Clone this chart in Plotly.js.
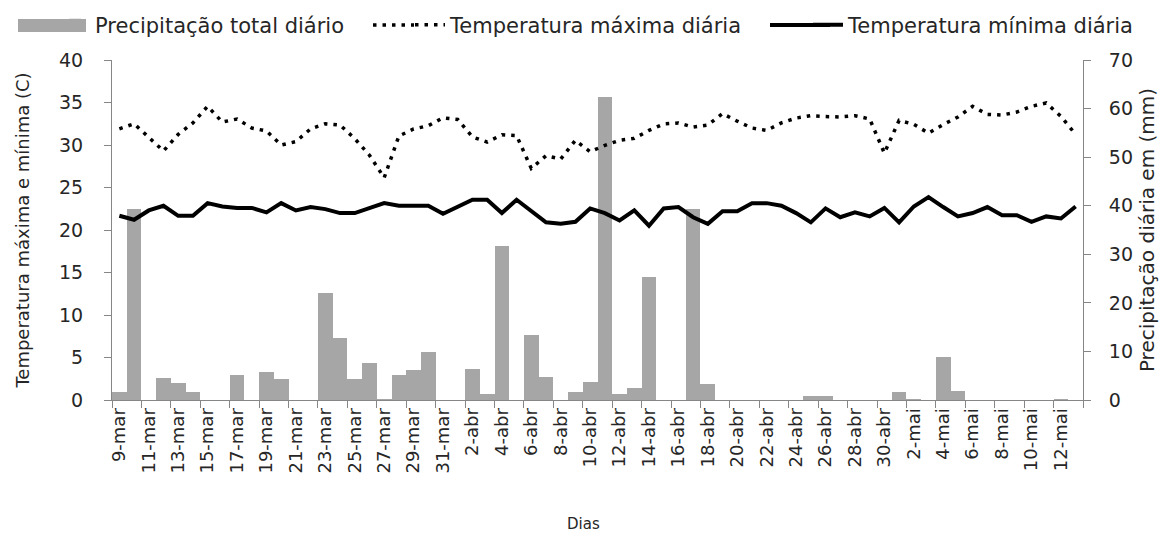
<!DOCTYPE html>
<html>
<head>
<meta charset="utf-8">
<script src="https://cdn.plot.ly/plotly-3.0.1.min.js"></script>
<style>
html,body{margin:0;padding:0;background:#fff;}
#chart{width:1161px;height:543px;}
</style>
</head>
<body>
<div id="chart"></div>
<script>
const days = [
 "9-mar","10-mar","11-mar","12-mar","13-mar","14-mar","15-mar","16-mar","17-mar","18-mar",
 "19-mar","20-mar","21-mar","22-mar","23-mar","24-mar","25-mar","26-mar","27-mar","28-mar",
 "29-mar","30-mar","31-mar","1-abr","2-abr","3-abr","4-abr","5-abr","6-abr","7-abr",
 "8-abr","9-abr","10-abr","11-abr","12-abr","13-abr","14-abr","15-abr","16-abr","17-abr",
 "18-abr","19-abr","20-abr","21-abr","22-abr","23-abr","24-abr","25-abr","26-abr","27-abr",
 "28-abr","29-abr","30-abr","1-mai","2-mai","3-mai","4-mai","5-mai","6-mai","7-mai",
 "8-mai","9-mai","10-mai","11-mai","12-mai","13-mai"
];

const precipitacao = [
 1.6, 39.4, 0, 4.5, 3.4, 1.6, 0, 0, 5.1, 0,
 5.8, 4.3, 0, 0, 22.0, 12.7, 4.3, 7.7, 0.3, 5.1,
 6.1, 9.8, 0, 0, 6.4, 1.2, 31.7, 0, 13.3, 4.8,
 0, 1.6, 3.7, 62.4, 1.2, 2.4, 25.4, 0, 0, 39.4,
 3.2, 0, 0, 0, 0, 0, 0, 0.8, 0.8, 0,
 0, 0, 0, 1.7, 0.3, 0, 8.9, 1.9, 0, 0,
 0, 0, 0, 0, 0.3, 0
];

const tempMax = [
 31.9, 32.5, 30.9, 29.3, 31.25, 32.6, 34.55, 32.7, 33.06, 32.0,
 31.65, 30.0, 30.4, 31.9, 32.5, 32.35, 30.75, 28.8, 26.15, 31.05,
 31.88, 32.27, 33.2, 33.0, 30.94, 30.35, 31.2, 31.1, 27.25, 28.74,
 28.35, 30.55, 29.2, 29.96, 30.55, 30.78, 31.72, 32.47, 32.6, 32.1,
 32.35, 33.7, 32.8, 32.0, 31.72, 32.6, 33.17, 33.45, 33.35, 33.3,
 33.45, 33.06, 29.05, 32.9, 32.43, 31.4, 32.4, 33.3, 34.55, 33.6,
 33.53, 33.88, 34.55, 34.94, 33.37, 31.25
];

const tempMin = [
 21.67, 21.2, 22.3, 22.85, 21.67, 21.67, 23.16, 22.77, 22.6, 22.6,
 22.07, 23.16, 22.3, 22.7, 22.46, 21.99, 21.99, 22.55, 23.16, 22.85,
 22.85, 22.85, 21.9, 22.77, 23.56, 23.56, 21.99, 23.56, 22.3, 20.9,
 20.73, 20.97, 22.54, 21.99, 21.12, 22.3, 20.5, 22.54, 22.7, 21.5,
 20.73, 22.2, 22.2, 23.16, 23.16, 22.85, 21.99, 20.9, 22.54, 21.5,
 22.07, 21.6, 22.6, 20.9, 22.77, 23.87, 22.7, 21.6, 22.0, 22.7,
 21.75, 21.75, 20.97, 21.6, 21.36, 22.77
];

const seriesNames = ["Precipitação total diário", "Temperatura máxima diária", "Temperatura mínima diária"];

const FONT = "DejaVu Sans, sans-serif";
const AXIS_COLOR = "#868686";
const TEXT_COLOR = "#262626";
const BAR_COLOR = "#a6a6a6";
const DOT_DASH = "3.5px,6px";

const W = 1161, H = 543;
const PLOT = {l: 112, r: 1083, t: 60, b: 400};
const px2x = p => (p - PLOT.l) / (PLOT.r - PLOT.l);
const px2y = p => (PLOT.b - p) / (PLOT.b - PLOT.t);
const LEG_Y = 25;

const traces = [
  {
    type: "bar", x: days, y: precipitacao, name: seriesNames[0],
    xaxis: "x", yaxis: "y", legend: "legend",
    marker: {color: BAR_COLOR, line: {width: 0}}
  },
  {
    type: "scatter", mode: "lines", x: days, y: tempMax, name: seriesNames[1],
    xaxis: "x", yaxis: "y2", legend: "legend2",
    line: {color: "#000000", width: 3.5, dash: DOT_DASH}
  },
  {
    type: "scatter", mode: "lines", x: days, y: tempMin, name: seriesNames[2],
    xaxis: "x", yaxis: "y2", legend: "legend3",
    line: {color: "#000000", width: 4}
  }
];

function legendAt(px) {
  return {
    orientation: "h", xref: "container", yref: "container",
    x: px / W, xanchor: "left", y: 1 - LEG_Y / H, yanchor: "middle",
    font: {family: FONT, size: 21, color: TEXT_COLOR},
    bgcolor: "rgba(0,0,0,0)", borderwidth: 0
  };
}

// wider legend swatches, as in the original
const shapes = [
  {type: "rect", xref: "paper", yref: "paper", layer: "above",
   x0: px2x(18), x1: px2x(86), y0: px2y(32), y1: px2y(19),
   fillcolor: BAR_COLOR, line: {width: 0}},
  {type: "line", xref: "paper", yref: "paper",
   x0: px2x(373), x1: px2x(414), y0: px2y(LEG_Y), y1: px2y(LEG_Y),
   line: {color: "#000000", width: 3.5, dash: DOT_DASH}},
  {type: "line", xref: "paper", yref: "paper",
   x0: px2x(770), x1: px2x(830), y0: px2y(LEG_Y), y1: px2y(LEG_Y),
   line: {color: "#000000", width: 4}}
];

const layout = {
  width: W, height: H,
  paper_bgcolor: "#ffffff", plot_bgcolor: "#ffffff",
  margin: {l: 112, r: 78, t: 60, b: 143, pad: 0, autoexpand: false},
  font: {family: FONT, color: TEXT_COLOR, size: 16},
  bargap: 0,
  showlegend: true,
  legend: legendAt(55),
  legend2: legendAt(410),
  legend3: legendAt(808),
  shapes: shapes,
  annotations: [
    {text: "Dias", xref: "paper", yref: "paper", x: px2x(583), y: px2y(524),
     xanchor: "center", yanchor: "middle", showarrow: false,
     font: {family: FONT, size: 15, color: TEXT_COLOR}}
  ],
  xaxis: {
    type: "category", tickmode: "linear", tick0: 0, dtick: 2,
    tickson: "boundaries", ticks: "outside", ticklen: 7, tickcolor: AXIS_COLOR,
    showline: true, linecolor: AXIS_COLOR, linewidth: 1,
    showgrid: false, zeroline: false, tickangle: -90,
    tickfont: {family: FONT, size: 18, color: TEXT_COLOR},
    range: [-0.5, 65.5]
  },
  yaxis: {
    side: "right", range: [0, 70], dtick: 10, tick0: 0,
    ticks: "outside", ticklen: 7, tickcolor: AXIS_COLOR, ticklabelstandoff: 14,
    showline: true, linecolor: AXIS_COLOR, linewidth: 1,
    showgrid: false, zeroline: false,
    tickfont: {family: FONT, size: 19, color: TEXT_COLOR},
    title: {text: "Precipitação diária em (mm)", font: {family: FONT, size: 20, color: TEXT_COLOR}, standoff: 8}
  },
  yaxis2: {
    overlaying: "y", side: "left", range: [0, 40], dtick: 5, tick0: 0,
    ticks: "outside", ticklen: 7, tickcolor: AXIS_COLOR, ticklabelstandoff: 17,
    showline: true, linecolor: AXIS_COLOR, linewidth: 1,
    showgrid: false, zeroline: false,
    tickfont: {family: FONT, size: 19, color: TEXT_COLOR},
    title: {text: "Temperatura máxima e mínima (C)", font: {family: FONT, size: 18, color: TEXT_COLOR}, standoff: 24}
  }
};

Plotly.newPlot("chart", traces, layout, {displayModeBar: false, staticPlot: true});
</script>
</body>
</html>
